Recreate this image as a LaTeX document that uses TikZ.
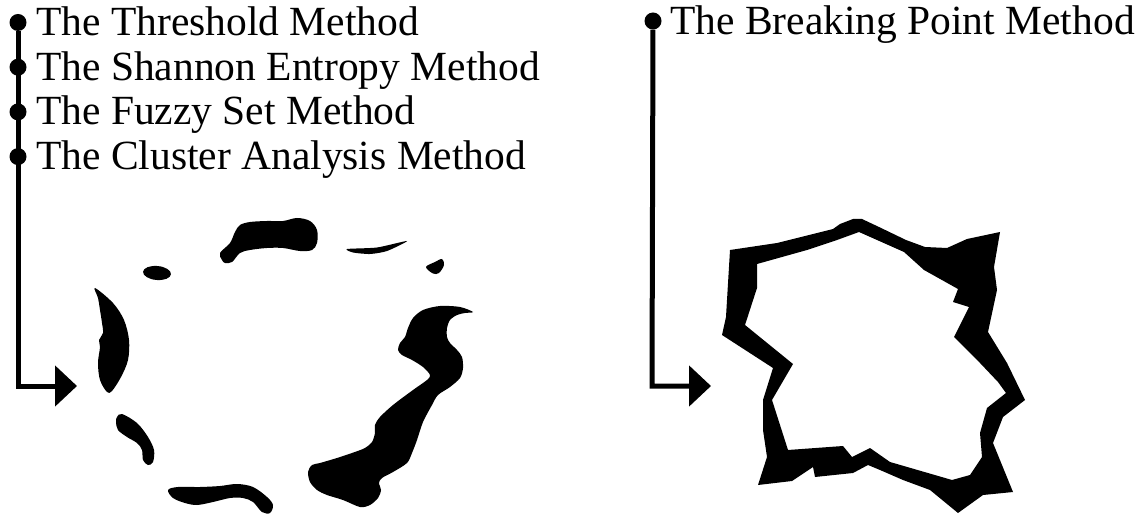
\documentclass[tikz,border=0pt]{standalone}
\usepackage{fontspec}
\setmainfont{Liberation Serif}
\usetikzlibrary{arrows.meta}
\tikzset{
  bullet/.style={circle, fill, inner sep=0pt, minimum size=17pt},
  method/.style={anchor=base west, inner sep=0pt, font=\fontsize{41.5}{45}\selectfont},
  lead/.style={line width=5pt, -{Triangle[length=22pt, width=40pt]}},
}
\begin{document}
\begin{tikzpicture}[x=1pt, y=-1pt]
  \useasboundingbox (0,0) rectangle (1145,518);
  % methods on the left
  \node[bullet] (thr) at (18,22.5) {};
  \node[bullet] (sha) at (18,67.2) {};
  \node[bullet] (fuz) at (18,111.9) {};
  \node[bullet] (clu) at (18,156.6) {};
  \node[method] (thrtxt) at (36,35.5) {The Threshold Method};
  \node[method] (shatxt) at (36,80.2) {The Shannon Entropy Method};
  \node[method] (fuztxt) at (36,124.9) {The Fuzzy Set Method};
  \node[method] (clutxt) at (36,169.6) {The Cluster Analysis Method};
  \coordinate (bendL) at (18,386);
  \coordinate (tipL) at (77,386);
  \draw[lead] (thr) -- (bendL) -- (tipL);
  % method on the right
  \node[bullet] (brk) at (653,21) {};
  \node[method] (brktxt) at (670,34.5) {The Breaking Point Method};
  \coordinate (bendR) at (652,386);
  \coordinate (tipR) at (711,386);
  \draw[lead] (brk) -- (bendR) -- (tipR);

  % scattered patches
  \fill plot[smooth cycle, tension=.55] coordinates {(95,288) (113,303) (124,320) (129,340) (128,360) (121,377) (112,391) (107,392) (100,380) (98,363) (100,347) (99,340) (103,333) (102,323) (100,310) (98,298)};
  \fill[rotate around={-5:(157,273)}] (157,273) ellipse [x radius=14, y radius=7];
  \fill plot[smooth cycle, tension=.55] coordinates {(117,417) (122,414) (137,423) (148,437) (154,450) (153,462) (148,465) (143,460) (142,450) (137,443) (127,437) (118,430) (116,422)};
  \fill plot[smooth cycle, tension=.55] coordinates {(168,490) (178,487) (200,487) (220,486) (237,484) (253,487) (267,497) (273,505) (270,513) (262,512) (253,502) (243,498) (230,498) (213,502) (197,505) (185,503) (173,498)};
  \fill plot[smooth cycle, tension=.55] coordinates {(222,260) (220,253) (230,243) (235,232) (240,225) (250,222) (267,221) (283,221) (297,218) (310,221) (317,230) (317,243) (312,250) (300,251) (283,248) (267,248) (250,250) (240,253) (232,262) (225,263)};
  \fill plot[smooth cycle, tension=.4] coordinates {(347,249) (377,247.5) (407,241) (387,251) (370,254) (353,252.5)};
  \fill plot[smooth cycle, tension=.55] coordinates {(426,267) (435,262) (442,259) (444,265) (439,273) (433,273.5)};
  \fill plot[smooth cycle, tension=.5] coordinates {(473,312) (460,307) (440,306) (423,310) (413,318) (408,328) (405,337) (400,343) (398,350) (402,355) (412,360) (423,367) (430,375) (427,380) (413,390) (393,405) (380,417) (375,425) (375,433) (372,442) (365,448) (352,453) (337,458) (320,463) (312,465) (308,472) (310,482) (317,490) (327,495) (343,500) (360,507) (370,505) (378,498) (381,490) (379,483) (382,478) (393,472) (407,463) (412,453) (417,440) (423,422) (432,405) (438,395) (450,387) (460,378) (463,368) (462,357) (457,350) (450,343) (447,337) (447,328) (450,320) (457,315) (465,313)};

  % broken ring
  \fill[even odd rule]
    (730,250) -- (777,243) -- (833,229) -- (840,224) -- (853,219) -- (862,219) -- (879,227)
    -- (906,240) -- (925,247) -- (947,248) -- (967,239) -- (1000,232) -- (994,267) -- (997,290)
    -- (988,332) -- (1007,363) -- (1025,400) -- (1003,417) -- (993,443) -- (1013,492) -- (983,495)
    -- (958,513) -- (930,490) -- (903,480) -- (880,470) -- (868,465) -- (853,473) -- (815,477)
    -- (813,467) -- (792,481) -- (758,485) -- (767,457) -- (763,430) -- (763,400) -- (773,368)
    -- (722,335) -- (726,317) -- (727,300) -- cycle
    (757,264) -- (807,250) -- (837,240) -- (859,232) -- (904,252) -- (924,270) -- (958,289)
    -- (953,302) -- (969,307) -- (954,337) -- (980,363) -- (998,382) -- (1006,393) -- (987,408)
    -- (980,433) -- (982,457) -- (970,475) -- (952,480) -- (890,462) -- (870,448) -- (852,457)
    -- (843,446) -- (788,450) -- (772,400) -- (793,364) -- (745,325) -- (757,288) -- cycle;
\end{tikzpicture}
\end{document}
